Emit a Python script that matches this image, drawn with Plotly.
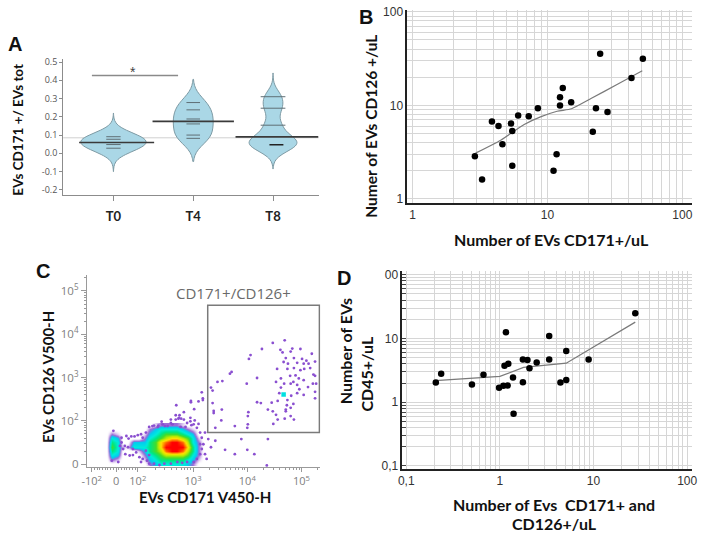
import numpy as np
import plotly.graph_objects as go

W, H = 708, 540

# ---------------- Panel A : violin plot ----------------
a_groups = ["T0", "T4", "T8"]
a_t0 = [0.028, 0.048, 0.077, 0.091]
a_t4 = [0.082, 0.100, 0.161, 0.188, 0.238, 0.278]
a_t8 = [0.047, 0.154, 0.247, 0.310]
a_t8_hidden = [0.030, 0.065, 0.085]          # estimated values hidden under the centre line
a_centre = [0.059, 0.175, 0.090]
a_ref_level = 0.085
a_sig_level = 0.426
a_yticks = [-0.2, -0.1, 0.0, 0.1, 0.2, 0.3, 0.4, 0.5]

# ---------------- Panel B : CD171 vs CD126 ----------------
b_x = [2.90, 3.28, 3.88, 4.34, 4.64, 5.37, 5.49, 5.49, 6.07, 7.27, 8.50, 11.1,
       11.7, 12.4, 12.4, 13.0, 15.0, 21.7, 22.9, 24.6, 27.9, 42.0, 51.0]
b_y = [2.86, 1.62, 6.73, 6.01, 3.85, 6.41, 5.33, 2.26, 7.78, 7.66, 9.30, 2.00,
       3.00, 12.2, 10.0, 15.3, 10.8, 5.24, 9.30, 35.6, 8.51, 19.6, 31.5]
b_fit_x = [2.93, 4.54, 6.73, 8.89, 11.8, 15.1, 21.2, 32.3, 50.5]
b_fit_y = [3.09, 4.28, 6.25, 7.53, 8.65, 9.21, 11.9, 16.5, 23.4]

# ---------------- Panel D : CD171+CD126 vs CD45 ----------------
d_x = [0.207, 0.236, 0.503, 0.668, 0.98, 1.09, 1.21, 1.12, 1.23, 1.16, 1.38, 1.40,
       1.76, 1.76, 1.97, 2.07, 2.47, 3.36, 3.36, 4.43, 5.11, 5.11, 8.86, 27.9]
d_y = [2.04, 2.80, 1.90, 2.71, 1.69, 1.81, 1.83, 3.73, 4.01, 12.5, 2.44, 0.66,
       4.68, 2.06, 4.62, 3.40, 4.21, 11.0, 4.68, 2.04, 6.37, 2.24, 4.68, 24.9]
d_fit_x = [0.204, 1.0, 1.79, 5.11, 27.9]
d_fit_y = [2.19, 2.55, 3.52, 4.10, 18.1]

# ---------------- Panel C : flow cytometry (axis units = display decades) ----------------
c_xtick_pos = [1.13, 1.58, 1.98, 3, 4, 5]
c_xtick_text = ["-10<sup>2</sup>", "0", "10<sup>2</sup>", "10<sup>3</sup>", "10<sup>4</sup>", "10<sup>5</sup>"]
c_ytick_pos = [1, 2, 3, 4, 5]
c_ytick_text = ["0", "10<sup>2</sup>", "10<sup>3</sup>", "10<sup>4</sup>", "10<sup>5</sup>"]
c_gate_x = [3.27, 5.33]
c_gate_y = [1.73, 4.67]

# density levels of the dense population (rows: y = 1.0 .. 1.9, cols: x = 1.4 .. 3.2)
c_dens_x = [1.4, 1.5, 1.6, 1.7, 1.8, 1.9, 2.0, 2.1, 2.2, 2.3, 2.4, 2.5, 2.6, 2.7, 2.8, 2.9, 3.0, 3.1, 3.2]
c_dens_y = [1.0, 1.1, 1.2, 1.3, 1.4, 1.5, 1.6, 1.7, 1.8, 1.9]
c_density = [
    [0, 0, 0, 0, 0, 0, 0, 0, 1, 1.5, 2, 2, 2, 2, 2, 1.5, 1, 0, 0],
    [0, 1, 0.5, 0, 0, 0, 0, 0.5, 1.5, 2, 2.5, 2.5, 2.5, 2.5, 2.5, 2, 1.5, 0.5, 0],
    [0, 2, 1.5, 0, 0, 0, 0, 1, 2, 2.5, 3, 3.5, 3.5, 3.5, 3.5, 3, 2, 1, 0],
    [0, 2.5, 2, 0, 0, 0, 0.5, 1.5, 2.5, 3, 3.5, 4.5, 5, 5, 4.5, 3.5, 2.5, 1, 0],
    [0, 3, 2, 0.5, 0.5, 2, 2, 2, 2.5, 3, 4, 5, 5, 5, 5, 4, 2.5, 1, 0],
    [0, 2.5, 2, 0, 0, 1.5, 1.5, 1.5, 2.5, 3, 4, 4.5, 5, 5, 4.5, 3.5, 2, 1, 0],
    [0, 2, 1.5, 0, 0, 0, 0, 1, 2, 2.5, 3, 3.5, 4, 4, 3.5, 3, 2, 0.5, 0],
    [0, 1, 0.5, 0, 0, 0, 0, 0.5, 1.5, 2, 2.5, 3, 3, 3, 2.5, 2, 1.5, 0, 0],
    [0, 0, 0, 0, 0, 0, 0, 0, 1, 1.5, 2, 2, 2, 2, 1.5, 1, 0.5, 0, 0],
    [0, 0, 0, 0, 0, 0, 0, 0, 0, 0.5, 1, 1, 1, 1, 0.5, 0, 0, 0, 0],
]

c_gate_events = [
    (4.47, 3.80), (4.69, 3.86), (4.27, 3.66), (4.61, 3.64), (4.06, 3.52), (4.03, 3.43),
    (4.83, 3.67), (4.98, 3.66), (4.65, 3.58), (4.80, 3.60), (4.86, 3.45), (5.01, 3.43),
    (5.09, 3.39), (5.25, 3.37), (4.67, 3.36), (4.92, 3.34), (5.04, 3.32), (5.22, 3.07),
    (5.25, 3.04), (4.55, 3.20), (4.74, 3.20), (4.86, 3.22), (4.98, 3.17), (5.13, 3.32),
    (4.79, 3.04), (4.89, 3.05), (4.95, 2.98), (5.04, 2.94), (4.68, 2.86), (4.80, 2.86),
    (4.92, 2.83), (5.21, 2.86), (5.25, 2.67), (4.18, 2.99), (3.99, 2.86), (3.71, 3.13),
    (3.68, 3.09), (3.45, 2.90), (3.54, 2.92), (3.33, 2.77), (3.36, 2.70), (4.59, 2.64),
    (4.92, 2.64), (5.04, 2.60), (5.25, 2.52), (4.74, 2.48), (4.85, 2.39), (4.56, 2.46),
    (4.45, 2.42), (4.38, 2.26), (4.47, 2.22), (4.73, 2.36), (4.80, 2.30), (4.71, 2.22),
    (4.53, 2.14), (4.56, 2.03), (4.48, 1.93), (4.80, 2.11), (4.86, 2.03), (4.69, 2.05),
    (4.71, 2.26), (3.36, 2.41), (3.38, 2.23), (3.53, 2.26), (3.52, 2.01), (4.01, 2.11),
    (4.01, 1.92), (4.00, 1.84), (3.41, 1.84), (3.77, 1.88), (4.02, 2.20), (4.25, 2.41),
    (4.18, 2.43), (4.81, 2.58), (4.96, 2.73), (5.12, 2.78), (4.62, 2.98), (4.53, 2.90),
    (4.62, 2.77), (4.85, 2.90), (5.05, 3.20), (5.16, 3.22), (5.27, 2.86), (5.19, 3.55),
    (4.71, 3.45), (4.75, 3.32),
]
c_mid_events = [
    (3.16, 2.66), (3.18, 2.52), (3.18, 2.48), (3.10, 2.45), (2.96, 2.46), (2.96, 2.43),
    (2.69, 2.36), (3.02, 2.27), (2.83, 2.20), (2.68, 2.13), (2.75, 2.13), (2.78, 2.05),
    (2.73, 2.05), (2.59, 2.03), (2.42, 1.98), (2.95, 2.07), (3.03, 2.01), (3.10, 1.93),
    (3.38, 2.18), (2.19, 1.86), (2.28, 1.89), (2.36, 1.89), (2.48, 1.88), (2.62, 1.92),
    (2.77, 1.86), (2.86, 1.86), (2.97, 1.90),
]
c_low_events = [
    (1.68, 1.61), (1.68, 1.50), (1.77, 1.65), (1.81, 1.59), (1.86, 1.64), (1.92, 1.64),
    (1.98, 1.67), (2.04, 1.69), (2.07, 1.61), (2.13, 1.73), (2.25, 1.88), (2.35, 1.86),
    (2.44, 1.92), (2.53, 1.88), (2.59, 1.95), (2.68, 2.03), (2.74, 2.07), (2.83, 2.03),
    (2.89, 1.95), (2.95, 1.99), (3.01, 1.92), (3.07, 1.84), (3.13, 1.73), (3.16, 1.61),
    (3.13, 1.46), (3.16, 1.35), (3.13, 1.23), (3.07, 1.12), (3.01, 1.05), (1.71, 1.35),
    (1.75, 1.23), (1.83, 1.20), (1.89, 1.21), (1.95, 1.27), (2.01, 1.16), (2.07, 1.12),
    (2.15, 1.08), (2.04, 1.05), (2.19, 1.01), (2.28, 1.01), (2.38, 0.98), (2.47, 1.01),
    (2.59, 1.01), (2.71, 1.05), (2.80, 1.03), (2.89, 1.05), (3.22, 1.23), (3.25, 1.12),
    (1.65, 1.42), (1.74, 1.42), (1.80, 1.39), (1.89, 1.35), (2.13, 1.31), (2.19, 1.21),
    (3.19, 1.46), (3.22, 1.73), (3.28, 1.58), (3.33, 1.39), (3.59, 1.33), (3.77, 1.23),
    (3.89, 1.58), (4.00, 1.33), (4.38, 1.58), (4.36, 0.97), (3.41, 1.54), (4.13, 1.23),
    (1.53, 1.77), (1.50, 1.08), (1.62, 1.05),
]
c_bright_events = [(4.67, 2.61)]

# =====================================================================
fig = go.Figure()

# ---------- Panel A ----------
a_pos = [0, 1, 2]
a_span = [[-0.10, 0.22], [-0.045, 0.405], [-0.085, 0.44]]
a_width = [0.82, 0.50, 0.60]
a_bw = [0.04, 0.05, 0.04]
a_samples = [a_t0, a_t4, a_t8 + a_t8_hidden]
for i in range(3):
    fig.add_trace(go.Violin(
        x0=a_pos[i], y=a_samples[i], width=a_width[i], bandwidth=a_bw[i],
        spanmode="manual", span=a_span[i], points=False, side="both",
        fillcolor="rgb(170,215,230)", line=dict(color="#7d9aa4", width=1),
        box_visible=False, meanline_visible=False, hoverinfo="skip",
        showlegend=False, xaxis="x", yaxis="y"))

a_line_half = [0.09, 0.085, 0.155]
lx, ly = [], []
for i, vals in enumerate([a_t0, a_t4, a_t8]):
    for v in vals:
        h = a_line_half[i]
        if i == 2 and v < 0.1:
            continue
        lx += [a_pos[i] - h, a_pos[i] + h, None]
        ly += [v, v, None]
fig.add_trace(go.Scatter(x=lx, y=ly, mode="lines", line=dict(color="#5f6f75", width=1),
                         hoverinfo="skip", showlegend=False, xaxis="x", yaxis="y"))
fig.add_trace(go.Scatter(x=[a_pos[2] - 0.045, a_pos[2] + 0.13], y=[a_t8[0], a_t8[0]], mode="lines",
                         line=dict(color="#222", width=1.5), hoverinfo="skip", showlegend=False,
                         xaxis="x", yaxis="y"))
a_centre_ext = [(-0.43, 0.51), (-0.51, 0.51), (-0.47, 0.57)]
cx, cy = [], []
for i in range(3):
    cx += [a_pos[i] + a_centre_ext[i][0], a_pos[i] + a_centre_ext[i][1], None]
    cy += [a_centre[i], a_centre[i], None]
fig.add_trace(go.Scatter(x=cx, y=cy, mode="lines", line=dict(color="#3a3a3a", width=1.6),
                         hoverinfo="skip", showlegend=False, xaxis="x", yaxis="y"))
fig.add_trace(go.Scatter(x=[-0.27, 0.81], y=[a_sig_level, a_sig_level], mode="lines",
                         line=dict(color="#8a8a8a", width=1.5), hoverinfo="skip",
                         showlegend=False, xaxis="x", yaxis="y"))

# ---------- Panel B ----------
fig.add_trace(go.Scatter(x=b_fit_x, y=b_fit_y, mode="lines",
                         line=dict(color="#7a7a7a", width=1.2, shape="spline", smoothing=0.6),
                         hoverinfo="skip", showlegend=False, xaxis="x2", yaxis="y2"))
fig.add_trace(go.Scatter(x=b_x, y=b_y, mode="markers", marker=dict(color="black", size=6.5),
                         showlegend=False, xaxis="x2", yaxis="y2"))

# ---------- Panel D ----------
fig.add_trace(go.Scatter(x=d_fit_x, y=d_fit_y, mode="lines", line=dict(color="#7a7a7a", width=1.2),
                         hoverinfo="skip", showlegend=False, xaxis="x4", yaxis="y4"))
fig.add_trace(go.Scatter(x=d_x, y=d_y, mode="markers", marker=dict(color="black", size=6.5),
                         showlegend=False, xaxis="x4", yaxis="y4"))

# ---------- Panel C ----------
dens_scale = [
    [0.0, "rgba(255,255,255,0)"],
    [0.1, "rgba(150,90,210,0.3)"],
    [0.2, "rgba(130,70,205,0.8)"],
    [0.3, "rgb(0,205,240)"],
    [0.4, "rgb(0,235,220)"],
    [0.5, "rgb(0,230,130)"],
    [0.6, "rgb(70,220,40)"],
    [0.7, "rgb(190,235,0)"],
    [0.8, "rgb(255,225,0)"],
    [0.9, "rgb(255,110,0)"],
    [1.0, "rgb(255,0,0)"],
]
fig.add_trace(go.Heatmap(x=c_dens_x, y=c_dens_y, z=c_density, zmin=0, zmax=5,
                         colorscale=dens_scale, zsmooth="best", showscale=False,
                         hoverinfo="skip", xaxis="x3", yaxis="y3"))
ev = c_gate_events + c_mid_events + c_low_events
fig.add_trace(go.Scatter(x=[p[0] for p in ev], y=[p[1] for p in ev], mode="markers",
                         marker=dict(color="#8a4fd0", size=2.8, line=dict(width=0)),
                         showlegend=False, xaxis="x3", yaxis="y3"))
fig.add_trace(go.Scatter(x=[p[0] for p in c_bright_events], y=[p[1] for p in c_bright_events],
                         mode="markers", marker=dict(color="#00e0e0", size=4.5, symbol="square"),
                         showlegend=False, xaxis="x3", yaxis="y3"))

c_xminor = [d + np.log10(k) for d in (2, 3, 4) for k in range(2, 10)] + [5 + np.log10(2)]
c_xminor += list(np.linspace(1.18, 1.53, 8)) + list(np.linspace(1.63, 1.93, 7))
c_yminor = [d + np.log10(k) for d in (1, 2, 3, 4) for k in range(2, 10)] + [5 + np.log10(2)]

# ---------- shapes ----------
shapes = [
    dict(type="line", xref="x domain", yref="y", x0=0, x1=1, y0=a_ref_level, y1=a_ref_level,
         line=dict(color="#d0d0d0", width=1), layer="below"),
    dict(type="rect", xref="x3", yref="y3", x0=c_gate_x[0], x1=c_gate_x[1],
         y0=c_gate_y[0], y1=c_gate_y[1], line=dict(color="#7a7a7a", width=1.5)),
]

# ---------- axes ----------
grid = "#d6d6d6"
tickf = dict(family="Liberation Sans", size=12, color="#333")
b_major = [1, 10, 100]
b_minor = [k * 10 ** d for d in (0, 1) for k in range(2, 10)]
d_major = [0.1, 1, 10, 100]
d_minor = [k * 10.0 ** d for d in (-1, 0, 1) for k in range(2, 10)]

def dom_x(a, b):
    return [a / W, b / W]

def dom_y(top, bottom):
    return [1 - bottom / H, 1 - top / H]

def log_axis(dom, rng, anchor, major, labels, minor_vals, minor_ticks=""):
    return dict(domain=dom, type="log", range=rng, anchor=anchor, tickmode="array",
                tickvals=major, ticktext=labels, showgrid=True, gridcolor=grid, gridwidth=1,
                minor=dict(tickmode="array", tickvals=minor_vals, showgrid=True, gridcolor=grid,
                           gridwidth=1, ticks=minor_ticks, ticklen=4, tickcolor="#444"),
                showline=True, linecolor="#222", linewidth=1.5, ticks=minor_ticks, ticklen=4,
                tickcolor="#444", tickfont=tickf, zeroline=False)

layout_axes = dict(
    xaxis=dict(domain=dom_x(59, 318), range=[-0.63, 2.57], anchor="y", tickvals=a_pos,
               ticktext=a_groups, showline=True, linecolor="#8c8c8c", ticks="outside",
               ticklen=5, tickcolor="#8c8c8c", ticklabelstandoff=5,
               tickfont=dict(family="Lato", size=13, color="#222", weight="bold"),
               showgrid=False, zeroline=False),
    yaxis=dict(domain=dom_y(55, 193), range=[-0.227, 0.516], anchor="x", tickvals=a_yticks,
               ticktext=[f"{v:.1f}" for v in a_yticks], showline=True, linecolor="#8c8c8c",
               ticks="outside", ticklen=3, tickcolor="#8c8c8c",
               tickfont=dict(family="Open Sans", size=9, color="#555"),
               showgrid=False, zeroline=False),
    xaxis2=log_axis(dom_x(408, 697), [-0.039, 2.073], "y2", b_major, ["1", "10", "100"], b_minor),
    yaxis2=log_axis(dom_y(5, 201), [-0.039, 2.02], "x2", b_major, ["1", "10", "100"], b_minor),
    xaxis3=dict(domain=dom_x(83, 320), range=[1.04, 5.35], anchor="y3", tickvals=c_xtick_pos,
                ticktext=c_xtick_text, showline=True, linecolor="#9a9a9a", ticks="outside",
                ticklen=4, tickcolor="#9a9a9a",
                minor=dict(tickmode="array", tickvals=c_xminor, ticks="outside", ticklen=2,
                           tickcolor="#9a9a9a"),
                tickfont=dict(family="Open Sans", size=11, color="#808080"),
                showgrid=False, zeroline=False),
    yaxis3=dict(domain=dom_y(275, 470), range=[0.93, 5.36], anchor="x3", tickvals=c_ytick_pos,
                ticktext=c_ytick_text, showline=True, linecolor="#9a9a9a", ticks="outside",
                ticklen=5, tickcolor="#9a9a9a",
                minor=dict(tickmode="array", tickvals=c_yminor, ticks="outside", ticklen=2,
                           tickcolor="#9a9a9a"),
                tickfont=dict(family="Open Sans", size=11.5, color="#808080"),
                showgrid=False, zeroline=False),
    xaxis4=log_axis(dom_x(403, 697), [-1.042, 2.053], "y4", d_major, ["0,1", "1", "10", "100"], d_minor),
    yaxis4=log_axis(dom_y(270.5, 472), [-1.05, 2.06], "x4", d_major, ["0,1", "1", "10", "00"], d_minor,
                    minor_ticks="inside"),
)

def ann(text, px, py, size, bold=True, angle=0, color="#111", family="Lato"):
    return dict(x=px / W, y=1 - py / H, xref="paper", yref="paper", text=text,
                showarrow=False, xanchor="center", yanchor="middle", textangle=angle,
                font=dict(family=family, size=size, color=color,
                          weight="bold" if bold else "normal"))

annotations = [
    ann("A", 10, 40, 20, family="Liberation Sans"),
    ann("B", 366, 12, 20, family="Liberation Sans"),
    ann("C", 39, 270, 20, family="Liberation Sans"),
    ann("D", 344, 278, 20, family="Liberation Sans"),
    ann("EVs CD171 +/ EVs tot", 13, 127, 13.5, angle=-90),
    ann("Numer of EVs CD126 +/uL", 371, 123, 15.5, angle=-90),
    ann("Number of EVs CD171+/uL", 554, 238, 16),
    ann("EVs CD126 V500-H", 43, 378, 15, angle=-90),
    ann("EVs CD171 V450-H", 203, 500, 15),
    ann("CD171+/CD126+", 232, 293, 15, bold=False, color="#6a6a6a", family="Open Sans"),
    ann("Number of EVs", 345, 352, 16, angle=-90),
    ann("CD45+/uL", 367, 375, 16, angle=-90),
    ann("Number of Evs  CD171+ and", 557, 508, 16),
    ann("CD126+/uL", 557, 527, 16),
    dict(x=0.25, y=0.445, xref="x", yref="y", text="*", showarrow=False,
         font=dict(family="Liberation Sans", size=14, color="#444")),
]

fig.update_layout(
    width=W, height=H, margin=dict(l=0, r=0, t=0, b=0),
    paper_bgcolor="white", plot_bgcolor="rgba(0,0,0,0)",
    violinmode="overlay", showlegend=False,
    shapes=shapes, annotations=annotations,
    **layout_axes,
)

fig.write_html("out.html", config={"displayModeBar": False},
               post_script="document.body.style.margin='0px';document.body.style.overflow='hidden';")
